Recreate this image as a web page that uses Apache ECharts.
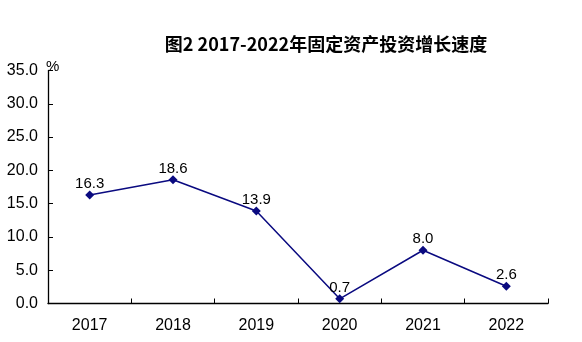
<!DOCTYPE html>
<html><head><meta charset="utf-8">
<script src="https://cdn.jsdelivr.net/npm/echarts@6/dist/echarts.min.js"></script>
<style>html,body{margin:0;padding:0;background:#fff}#c{width:582px;height:342px}</style>
</head><body><div id="c"></div>
<script>
const titleText = '图2 2017-2022年固定资产投资增长速度';
const categories = ['2017','2018','2019','2020','2021','2022'];
const growth = [16.3, 18.6, 13.9, 0.7, 8.0, 2.6];
const yTicks = [0, 5, 10, 15, 20, 25, 30, 35];
const unit = '%';

const chart = echarts.init(document.getElementById('c'), null, {renderer:'canvas'});
chart.setOption({
  animation:false,
  backgroundColor:'#fff',
  title:{text:titleText,left:321,top:30,textAlign:'center',
    textStyle:{fontFamily:'"Noto Sans CJK SC"',fontSize:18,fontWeight:'bold',color:'#000'}},
  graphic:[{type:'text',left:46,top:59,style:{text:unit,font:'15px "Liberation Sans", Arial',fill:'#000'}}],
  grid:{left:48,right:34,top:70.5,bottom:38.5,containLabel:false},
  xAxis:{type:'category',data:categories,boundaryGap:true,
    axisLine:{lineStyle:{color:'#000',width:1.3}},
    axisTick:{show:true,inside:true,length:5,alignWithLabel:false,lineStyle:{color:'#000'}},
    axisLabel:{color:'#000',fontSize:16,fontFamily:'"Liberation Sans", Arial',margin:14}},
  yAxis:{type:'value',min:yTicks[0],max:yTicks[yTicks.length-1],interval:5,
    splitLine:{show:false},
    axisLine:{show:true,lineStyle:{color:'#000',width:1.3}},
    axisTick:{show:true,inside:true,length:5,lineStyle:{color:'#000'}},
    axisLabel:{color:'#000',fontSize:16,fontFamily:'"Liberation Sans", Arial',margin:10,
      formatter:v=>v.toFixed(1)}},
  series:[{type:'line',data:growth,symbol:'diamond',symbolSize:9,
    lineStyle:{color:'#0a0a80',width:1.5},itemStyle:{color:'#0a0a80'},
    label:{show:true,position:'top',distance:-1,color:'#000',fontSize:15,
      fontFamily:'"Liberation Sans", Arial',formatter:p=>p.value.toFixed(1)}}]
});
</script></body></html>
